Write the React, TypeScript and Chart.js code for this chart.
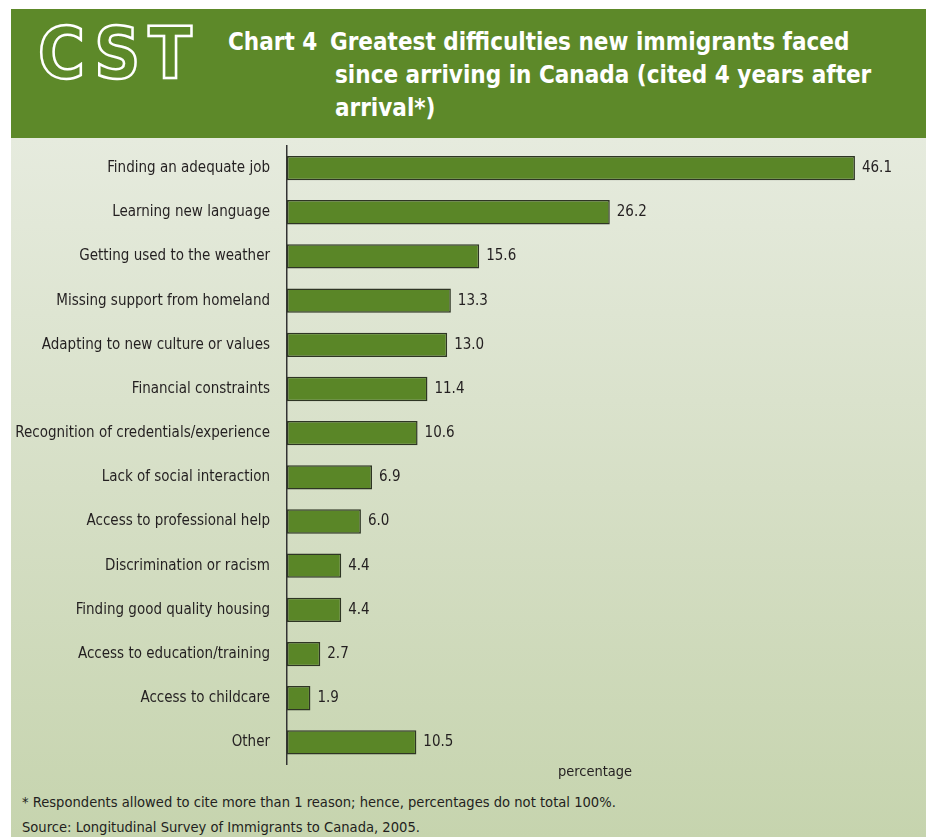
import React, { useEffect, useRef } from "react";
import { Chart, registerables } from "chart.js";

Chart.register(...registerables);

const categories = [
  "Finding an adequate job",
  "Learning new language",
  "Getting used to the weather",
  "Missing support from homeland",
  "Adapting to new culture or values",
  "Financial constraints",
  "Recognition of credentials/experience",
  "Lack of social interaction",
  "Access to professional help",
  "Discrimination or racism",
  "Finding good quality housing",
  "Access to education/training",
  "Access to childcare",
  "Other",
];
const values = [46.1, 26.2, 15.6, 13.3, 13.0, 11.4, 10.6, 6.9, 6.0, 4.4, 4.4, 2.7, 1.9, 10.5];
const axisTitle = "percentage";
const titleLead = "Chart 4";
const titleLines = [
  "Greatest difficulties new immigrants faced",
  "since arriving in Canada (cited 4 years after",
  "arrival*)",
];
const footnotes = [
  "* Respondents allowed to cite more than 1 reason; hence, percentages do not total 100%.",
  "Source: Longitudinal Survey of Immigrants to Canada, 2005.",
];

const FONT = "'DejaVu Sans Condensed', 'Liberation Sans Narrow', sans-serif";

const valueLabels = {
  id: "valueLabels",
  afterDatasetsDraw(chart: any) {
    const ctx = chart.ctx;
    const meta = chart.getDatasetMeta(0);
    ctx.save();
    ctx.font = `15px ${FONT}`;
    ctx.fillStyle = "#231f20";
    ctx.textAlign = "left";
    ctx.textBaseline = "middle";
    meta.data.forEach((bar: any, i: number) => {
      const v = chart.data.datasets[0].data[i] as number;
      ctx.fillText(v.toFixed(1), bar.x + 7, bar.y);
    });
    ctx.restore();
  },
};

function BarChart() {
  const ref = useRef<HTMLCanvasElement | null>(null);
  useEffect(() => {
    if (!ref.current) return;
    const chart = new Chart(ref.current, {
      type: "bar",
      data: {
        labels: categories,
        datasets: [
          {
            data: values,
            backgroundColor: "#5a8627",
            borderColor: "#2e3524",
            borderWidth: 1.5,
            borderSkipped: false,
            barPercentage: 0.55,
            categoryPercentage: 1,
          },
        ],
      },
      options: {
        indexAxis: "y",
        animation: false,
        responsive: false,
        maintainAspectRatio: false,
        layout: { padding: { left: 0, right: 23, top: 6, bottom: 0 } },
        plugins: {
          legend: { display: false },
          tooltip: { enabled: false },
        },
        scales: {
          x: {
            min: 0,
            max: 50,
            grid: { display: false, drawTicks: false },
            border: { display: false },
            ticks: { display: false },
            title: {
              display: true,
              text: axisTitle,
              color: "#231f20",
              font: { family: FONT, size: 14.5, lineHeight: 1 },
              padding: { top: 0, bottom: 2 },
            },
            afterFit(scale: any) {
              scale.paddingLeft = 0;
              scale.paddingRight = 0;
            },
          },
          y: {
            grid: { display: false, drawTicks: false },
            border: { display: true, color: "#333333", width: 1.5 },
            ticks: {
              color: "#231f20",
              padding: 17,
              font: { family: FONT, size: 15 },
            },
            afterFit(scale: any) {
              scale.width = 276;
              scale.paddingTop = 0;
              scale.paddingBottom = 0;
            },
          },
        },
      },
      plugins: [valueLabels],
    } as any);
    return () => chart.destroy();
  }, []);
  return (
    <canvas
      ref={ref}
      width={915}
      height={641}
      style={{ position: "absolute", left: 0, top: 131, width: 915, height: 641 }}
    />
  );
}

export default function App() {
  return (
    <div
      style={{
        position: "absolute",
        left: 11,
        top: 9,
        width: 915,
        height: 828,
        fontFamily: FONT,
        overflow: "hidden",
      }}
    >
      <div
        style={{
          position: "absolute",
          left: 0,
          top: 0,
          width: 915,
          height: 129,
          background: "#5d8929",
        }}
      >
        <div
          style={{
            position: "absolute",
            left: 27,
            top: 9,
            fontFamily: FONT,
            fontWeight: 700,
            fontSize: 71,
            lineHeight: "71px",
            letterSpacing: 8,
            color: "transparent",
            WebkitTextStroke: "2.5px #ffffff",
          }}
        >
          CST
        </div>
        <div
          style={{
            position: "absolute",
            left: 217,
            top: 17,
            color: "#ffffff",
            fontWeight: 700,
            fontSize: 24,
            lineHeight: "33px",
            whiteSpace: "nowrap",
          }}
        >
          {titleLead}
        </div>
        <div
          style={{
            position: "absolute",
            left: 319,
            top: 17,
            color: "#ffffff",
            fontWeight: 700,
            fontSize: 24,
            lineHeight: "33px",
            whiteSpace: "nowrap",
          }}
        >
          {titleLines.map((t, i) => (
            <div key={i} style={{ paddingLeft: i === 0 ? 0 : 5 }}>
              {t}
            </div>
          ))}
        </div>
      </div>
      <div
        style={{
          position: "absolute",
          left: 0,
          top: 129,
          width: 915,
          height: 699,
          background: "linear-gradient(to bottom, #e6ebde 0%, #d6dfc6 50%, #c6d4ae 100%)",
        }}
      />
      <BarChart />
      {footnotes.map((t, i) => (
        <div
          key={i}
          style={{
            position: "absolute",
            left: 11,
            top: 783 + i * 25,
            fontSize: 14.6,
            lineHeight: "20px",
            color: "#231f20",
            whiteSpace: "nowrap",
          }}
        >
          {t}
        </div>
      ))}
    </div>
  );
}
